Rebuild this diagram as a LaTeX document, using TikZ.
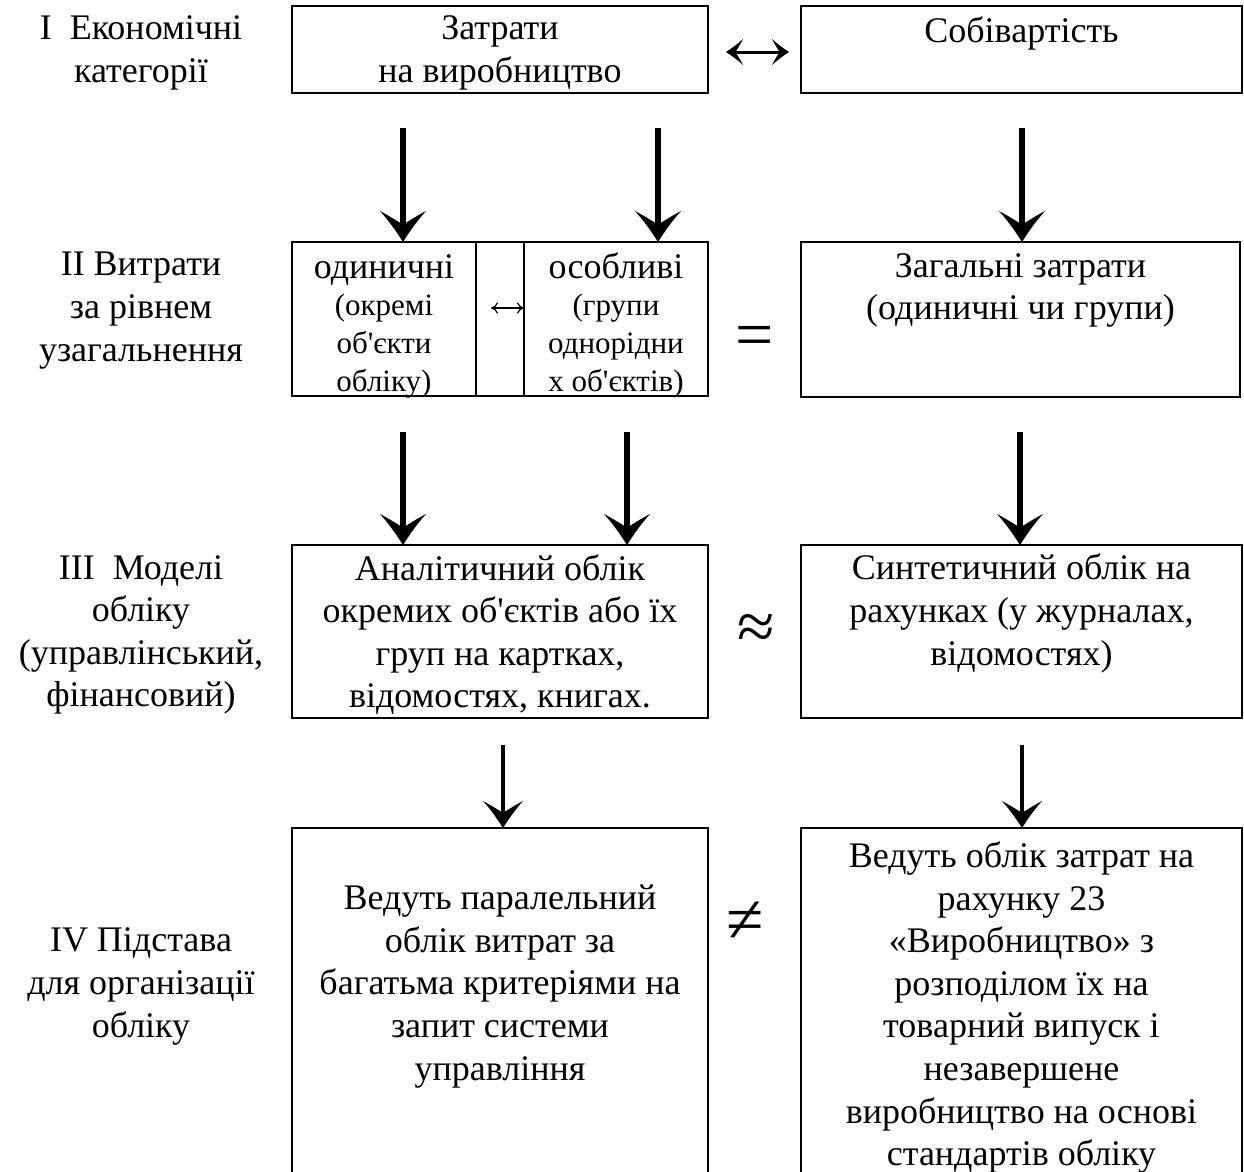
\documentclass[tikz,border=0pt]{standalone}
\usepackage{fontspec}
\setmainfont{Liberation Serif}
\usetikzlibrary{arrows.meta}
\newcommand{\ap}{\textquotesingle}
\pgfdeclarearrow{
  name = Heavy,
  parameters = {\the\pgfarrowlength,\the\pgfarrowwidth},
  setup code = {
    \pgfarrowssettipend{0pt}
    \pgfarrowssetlineend{-.45\pgfarrowlength}
    \pgfarrowssetbackend{-\pgfarrowlength}
    \pgfarrowssetvisualbackend{-.56\pgfarrowlength}
    \pgfarrowsupperhullpoint{-\pgfarrowlength}{.5\pgfarrowwidth}
    \pgfarrowssavethe\pgfarrowlength
    \pgfarrowssavethe\pgfarrowwidth
  },
  drawing code = {
    \pgfpathmoveto{\pgfqpoint{0pt}{0pt}}
    \pgfpathcurveto{\pgfqpoint{-.33\pgfarrowlength}{.14\pgfarrowwidth}}{\pgfqpoint{-.67\pgfarrowlength}{.30\pgfarrowwidth}}{\pgfqpoint{-\pgfarrowlength}{.5\pgfarrowwidth}}
    \pgfpathcurveto{\pgfqpoint{-.86\pgfarrowlength}{.32\pgfarrowwidth}}{\pgfqpoint{-.70\pgfarrowlength}{.15\pgfarrowwidth}}{\pgfqpoint{-.56\pgfarrowlength}{0pt}}
    \pgfpathcurveto{\pgfqpoint{-.70\pgfarrowlength}{-.15\pgfarrowwidth}}{\pgfqpoint{-.86\pgfarrowlength}{-.32\pgfarrowwidth}}{\pgfqpoint{-\pgfarrowlength}{-.5\pgfarrowwidth}}
    \pgfpathcurveto{\pgfqpoint{-.67\pgfarrowlength}{-.30\pgfarrowwidth}}{\pgfqpoint{-.33\pgfarrowlength}{-.14\pgfarrowwidth}}{\pgfqpoint{0pt}{0pt}}
    \pgfpathclose
    \pgfusepathqfill
  },
  defaults = {length=30pt, width=44pt}
}
\begin{document}
\begin{tikzpicture}[x=1pt,y=-1pt,
  box/.style={draw, line width=2.5pt, outer sep=0pt, inner sep=0pt},
  txt/.style={inner sep=0pt, align=center, font=\fontsize{36}{42.6}\selectfont, yshift=-4pt,
    execute at begin node=\strut, execute at end node=\strut},
  smalltxt/.style={txt, font=\fontsize{31}{38}\selectfont},
  sym/.style={inner sep=0pt, font=\fontsize{68}{68}\selectfont},
  bigarrow/.style={line width=6pt, -{Heavy[length=31pt,width=46pt]}},
  midarrow/.style={line width=3.2pt, -{Heavy[length=27pt,width=40pt]}},
  dblarrow/.style={line width=3pt, {Heavy[length=17pt,width=26pt]}-{Heavy[length=17pt,width=26pt]}},
  thinarrow/.style={line width=1.2pt, {Computer Modern Rightarrow[length=7pt,width=11pt,line width=1.2pt]}-{Computer Modern Rightarrow[length=7pt,width=11pt,line width=1.2pt]}}
]
\useasboundingbox (0,0) rectangle (1244,1171);
\clip (0,0) rectangle (1244,1171);

% Row I
\node[box, minimum width=416pt, minimum height=87pt] (A) at (500,49.5) {};
\node[box, minimum width=441pt, minimum height=87pt] (B) at (1021.5,49.5) {};
\node[txt] (lI) at (141,51.5) {I\ \ Економічні\\категорії};
\node[txt] (tA) at (500,51.5) {Затрати\\на виробництво};
\node[txt] (tB) at (1021.5,30) {Собівартість};
\draw[dblarrow, shorten <=18pt, shorten >=12pt] (A.east |- 0,52) coordinate (ae) -- (B.west |- 0,52) coordinate (bw);

% Row II
\node[box, minimum width=184pt, minimum height=154pt] (C1) at (384,319) {};
\node[box, minimum width=48pt, minimum height=154pt] (C2) at (500,319) {};
\node[box, minimum width=184pt, minimum height=154pt] (C3) at (616,319) {};
\node[box, minimum width=439pt, minimum height=155pt] (C) at (1020.5,319.5) {};
\node[txt] (lII) at (141,309) {II Витрати\\за рівнем\\узагальнення};
\node[txt] (t1a) at (384,266) {одиничні};
\node[smalltxt] (t1b) at (384,344) {(окремі\\об\ap єкти\\обліку)};
\node[txt] (t3a) at (616,266) {особливі};
\node[smalltxt] (t3b) at (616,344) {(групи\\однорідни\\х об\ap єктів)};
\coordinate (m1) at (491,308);
\coordinate (m2) at (524,308);
\draw[thinarrow] (m1) -- (m2);
\node[sym] (eq) at (755,342) {=};
\node[txt] (tC) at (1020.5,289) {Загальні затрати\\(одиничні чи групи)};

% Row III
\node[box, minimum width=416pt, minimum height=173pt] (D) at (500,631.5) {};
\node[box, minimum width=441pt, minimum height=173pt] (E) at (1021.5,631.5) {};
\node[txt] (lIII) at (141,633.5) {III\ \ Моделі\\обліку\\(управлінський,\\фінансовий)};
\node[txt] (tD) at (500,633.5) {Аналітичний облік\\окремих об\ap єктів або їх\\груп на картках,\\відомостях, книгах.};
\node[txt] (tE) at (1021.5,612) {Синтетичний облік на\\рахунках (у журналах,\\відомостях)};
\node[sym] (approx) at (756,632) {≈};

% Row IV
\node[box, minimum width=416pt, minimum height=372pt] (F) at (500,1014) {};
\node[box, minimum width=441pt, minimum height=372pt] (G) at (1021.5,1014) {};
\node[txt] (lIV) at (141,985) {IV Підстава\\для організації\\обліку};
\node[txt] (tF) at (500,985) {Ведуть паралельний\\облік витрат за\\багатьма критеріями на\\запит системи\\управління};
\node[txt] (tG) at (1021.5,1006) {Ведуть облік затрат на\\рахунку 23\\«Виробництво» з\\розподілом їх на\\товарний випуск і\\незавершене\\виробництво на основі\\стандартів обліку};
\node[sym] (neq) at (745,922) {≠};

% Arrows I -> II
\coordinate (s1) at (403,128);
\coordinate (s2) at (658,128);
\coordinate (s3) at (1022,128);
\draw[bigarrow] (s1) -- (s1 |- C1.north);
\draw[bigarrow] (s2) -- (s2 |- C3.north);
\draw[bigarrow] (s3) -- (s3 |- C.north);
% Arrows II -> III
\coordinate (s4) at (403,432);
\coordinate (s5) at (627,432);
\coordinate (s6) at (1020,432);
\draw[bigarrow] (s4) -- (s4 |- D.north);
\draw[bigarrow] (s5) -- (s5 |- D.north);
\draw[bigarrow] (s6) -- (s6 |- E.north);
% Arrows III -> IV
\coordinate (s7) at (503,745);
\coordinate (s8) at (1022,745);
\draw[midarrow] (s7) -- (s7 |- F.north);
\draw[midarrow] (s8) -- (s8 |- G.north);
\end{tikzpicture}
\end{document}
